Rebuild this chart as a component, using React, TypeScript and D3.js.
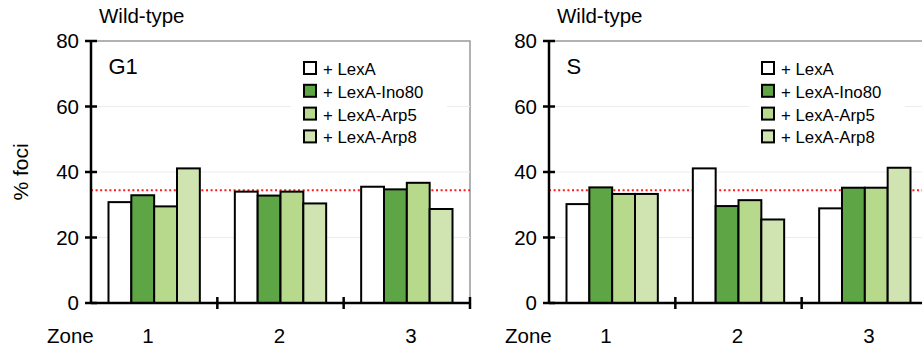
import React from 'react'
import * as d3 from 'd3'

// zones on the x axis
const zones = ['1', '2', '3']
const series = ['+ LexA', '+ LexA-Ino80', '+ LexA-Arp5', '+ LexA-Arp8']
const colors = ['#ffffff', '#5ea545', '#b6d98b', '#cfe4b1']

// % foci, one row per series, one value per zone
const g1Values = [
  [30.8, 34.0, 35.5],
  [32.9, 32.8, 34.7],
  [29.5, 34.0, 36.7],
  [41.1, 30.4, 28.7],
]
const sValues = [
  [30.2, 41.1, 28.9],
  [35.3, 29.6, 35.2],
  [33.3, 31.4, 35.2],
  [33.3, 25.5, 41.3],
]
const yTicks = [0, 20, 40, 60, 80]
const gridTicks = [20, 40, 60]
const refLine = 34.4

const font = 'Arial, "Liberation Sans", sans-serif'

const top = 41
const bottom = 303
const plotW = 379

const y = d3.scaleLinear().domain([0, 80]).range([bottom, top])

interface PanelProps {
  x0: number
  title: string
  phase: string
  values: number[][]
  showYLabel: boolean
}

const Panel = ({ x0, title, phase, values, showYLabel }: PanelProps) => {
  const x = d3.scaleBand().domain(zones).range([x0, x0 + plotW]).padding(0)
  const inner = d3
    .scaleBand()
    .domain(series)
    .range([17.5, x.bandwidth() - 17.5])
    .padding(0)
  // zone labels sit a little wider apart than the bands
  const xLab = d3.scalePoint().domain(zones).range([x0 + 57, x0 + 320])
  const legX = x0 + 213
  const legY = 62
  const rowH = 22.8

  return (
    <g>
      {/* frame */}
      <rect x={x0} y={top} width={plotW} height={bottom - top} fill="none" stroke="#999" strokeWidth={1.5} />
      {gridTicks.map((t) => (
        <line key={t} x1={x0} x2={x0 + plotW} y1={y(t)} y2={y(t)} stroke="#ececec" strokeWidth={1} />
      ))}
      {/* legend background */}
      <rect x={legX - 13} y={legY - 10} width={156} height={94} fill="#fff" />
      <line
        x1={x0}
        x2={x0 + plotW}
        y1={y(refLine)}
        y2={y(refLine)}
        stroke="#ff1a1a"
        strokeWidth={2}
        strokeDasharray="2,2.6"
      />
      {series.map((s, i) =>
        zones.map((z, j) => (
          <rect
            key={s + z}
            x={(x(z) as number) + (inner(s) as number)}
            y={y(values[i][j])}
            width={inner.bandwidth()}
            height={bottom - y(values[i][j])}
            fill={colors[i]}
            stroke="#000"
            strokeWidth={2}
          />
        ))
      )}
      {/* y axis */}
      <line x1={x0} x2={x0} y1={top - 1} y2={bottom + 1} stroke="#000" strokeWidth={2.5} />
      {yTicks.map((t) => (
        <g key={t}>
          <line x1={x0 - 6} x2={x0 + 6} y1={y(t)} y2={y(t)} stroke="#000" strokeWidth={2.5} />
          <text
            x={x0 - 12}
            y={y(t)}
            dy="0.36em"
            textAnchor="end"
            fontSize={20.5}
            fontFamily={font}
            fill="#000"
          >
            {t}
          </text>
        </g>
      ))}
      {/* x axis */}
      <line x1={x0} x2={x0 + plotW} y1={bottom} y2={bottom} stroke="#000" strokeWidth={2.5} />
      {zones.map((z) => (
        <g key={z}>
          <line
            x1={(x(z) as number) + x.bandwidth()}
            x2={(x(z) as number) + x.bandwidth()}
            y1={bottom - 6}
            y2={bottom + 6}
            stroke="#000"
            strokeWidth={2.5}
          />
          <text x={xLab(z)} y={343} textAnchor="middle" fontSize={20.5} fontFamily={font} fill="#000">
            {z}
          </text>
        </g>
      ))}
      <text x={x0 - 44} y={343} fontSize={20.5} fontFamily={font} fill="#000">
        Zone
      </text>
      <text x={x0 + 8} y={23} fontSize={20.5} fontFamily={font} fill="#000">
        {title}
      </text>
      <text x={x0 + 17.5} y={74} fontSize={22} fontFamily={font} fill="#000">
        {phase}
      </text>
      {showYLabel && (
        <text
          transform={`translate(28,${(top + bottom) / 2}) rotate(-90)`}
          textAnchor="middle"
          fontSize={21}
          fontFamily={font}
          fill="#000"
        >
          % foci
        </text>
      )}
      {/* legend */}
      {series.map((s, i) => (
        <g key={s} transform={`translate(${legX},${legY + i * rowH})`}>
          <rect x={0} y={0} width={12} height={12} fill={colors[i]} stroke="#000" strokeWidth={2} />
          <text x={19} y={13} fontSize={16.8} fontFamily={font} fill="#000">
            {s}
          </text>
        </g>
      ))}
    </g>
  )
}

const App = () => {
  return (
    <svg width={922} height={353} style={{ position: 'absolute', left: 0, top: 0, background: '#fff' }}>
      <Panel x0={91} title="Wild-type" phase="G1" values={g1Values} showYLabel />
      <Panel x0={549} title="Wild-type" phase="S" values={sValues} showYLabel={false} />
    </svg>
  )
}

export default App
